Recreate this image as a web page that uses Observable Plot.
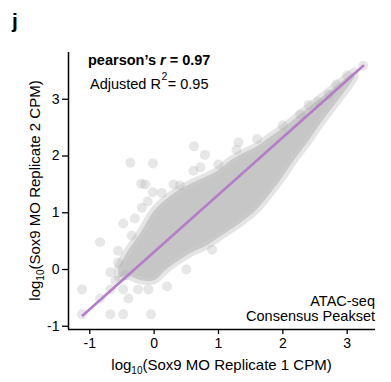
<!DOCTYPE html>
<html><head><meta charset="utf-8">
<script src="https://cdn.jsdelivr.net/npm/d3@7"></script>
<script src="https://cdn.jsdelivr.net/npm/@observablehq/plot@0.6"></script>
<style>body{margin:0;background:#fff;}</style>
</head><body><div id="chart"></div>
<script>
// ---- data ----
const xTicks = [-1, 0, 1, 2, 3];
const yTicks = [-1, 0, 1, 2, 3];
// dense point cloud envelope (log10 CPM)
const cloudX  = [-0.55, -0.4, -0.2, 0.0, 0.2, 0.4, 0.6, 0.8, 1.0, 1.2, 1.4, 1.6, 1.8, 2.0, 2.2, 2.4, 2.6, 2.8, 3.0, 3.12];
const cloudHi = [0.02, 0.32, 0.65, 1.02, 1.24, 1.40, 1.52, 1.62, 1.74, 1.92, 2.05, 2.16, 2.32, 2.48, 2.66, 2.84, 3.02, 3.20, 3.38, 3.48];
const cloudLo = [-0.15, -0.12, -0.20, -0.20, 0.00, 0.16, 0.30, 0.40, 0.55, 0.70, 0.86, 1.05, 1.32, 1.62, 1.95, 2.25, 2.58, 2.88, 3.18, 3.38];
// sparse individual peaks outside the dense cloud
const outX = [-0.37, -0.02, 0.62, 0.79, -0.14, -0.20, -0.02, -0.48, -0.84, -0.19, -0.56, -0.56, -0.68, -1.12, -0.68, -0.84, -0.40, -0.48, -0.25, -0.09, -1.12, -0.68, -0.48, -0.05, 1.31, 1.28, 2.83, 3.25, 2.27, 2.71, 0.61, 0.72, 0.40, 2.00, 0.12, 0.30, 1.00, 1.60, 2.40, 2.55, 3.00, -0.30, -0.35, 0.20, 0.50, 0.90, -0.60, -0.45, -0.10];
const outY = [1.88, 1.87, 2.17, 2.02, 1.50, 1.51, 1.36, 0.81, 0.48, 1.09, 0.33, 0.12, -0.05, -0.35, -0.35, -0.51, -0.51, -0.35, -0.35, -0.35, -0.79, -0.79, -0.79, -0.79, 2.24, 2.11, 3.26, 3.59, 2.73, 3.08, 1.74, 1.80, 1.48, 2.54, 1.35, 1.50, 1.85, 2.30, 2.90, 2.95, 3.42, 0.90, 0.60, -0.30, 0.00, 0.35, -0.20, -0.10, 1.20];
// fitted line end points
const fitX = [-1.11, 3.25];
const fitY = [-0.81, 3.59];
const pearsonR = "0.97";
const adjR2 = "0.95";
const xTitle = ["log", "10", "(Sox9 MO Replicate 1 CPM)"];
const yTitle = ["log", "10", "(Sox9 MO Replicate 2 CPM)"];
const noteLines = ["ATAC-seq", "Consensus Peakset"];
const panelLabel = "j";

// ---- tables ----
const cloud = cloudX.map((x, i) => ({x, lo: cloudLo[i], hi: cloudHi[i]}));
const outliers = outX.map((x, i) => ({x, y: outY[i]}));
const fit = fitX.map((x, i) => ({x, y: fitY[i]}));

const W = 391, H = 382, mL = 68, mR = 16, mT = 52, mB = 53;
const xDomain = [-1.331, 3.44], yDomain = [-1.057, 3.824];
const FONT = "'Liberation Sans', Arial, Helvetica, sans-serif";

const plot = Plot.plot({
  width: W, height: H,
  marginLeft: mL, marginRight: mR, marginTop: mT, marginBottom: mB,
  style: {fontFamily: FONT, fontSize: "14px", color: "#000", background: "#fff"},
  x: {domain: xDomain},
  y: {domain: yDomain},
  marks: [
    Plot.areaY(cloud, {x: "x", y1: "lo", y2: "hi", fill: "#c6c6c6", stroke: "#cccccc", strokeWidth: 8, strokeOpacity: 0.5, strokeLinejoin: "round", curve: "catmull-rom"}),
    Plot.dot(outliers, {x: "x", y: "y", r: 5, fill: "#a8a8a8", fillOpacity: 0.27, stroke: "none"}),
    Plot.line(fit, {x: "x", y: "y", stroke: "#b57cc8", strokeWidth: 2.5}),
    Plot.ruleX([xDomain[0]], {stroke: "#000", strokeWidth: 1.5}),
    Plot.ruleY([yDomain[0]], {stroke: "#000", strokeWidth: 1.5}),
    Plot.axisX({ticks: xTicks, tickSize: 5, tickPadding: 4, tickFormat: d => String(d), label: null, fontSize: 14, strokeWidth: 1.3}),
    Plot.axisY({ticks: yTicks, tickSize: 6, tickPadding: 3, tickFormat: d => String(d), label: null, fontSize: 14, strokeWidth: 1.3})
  ]
});
document.getElementById("chart").appendChild(plot);

const svg = d3.select(plot);
const g = svg.append("g").attr("font-family", FONT).attr("fill", "#000").attr("text-anchor", "start");
const cx = mL + (W - mL - mR) / 2, cy = mT + (H - mT - mB) / 2;

g.append("text").attr("x", 12).attr("y", 28).attr("font-size", 21).attr("font-weight", "bold").attr("text-anchor", "start").text(panelLabel);

const t1 = g.append("text").attr("x", mL + 20).attr("y", mT + 13).attr("font-size", 14.5).attr("font-weight", "bold").attr("text-anchor", "start");
t1.append("tspan").text("pearson\u2019s ");
t1.append("tspan").attr("font-style", "italic").text("r");
t1.append("tspan").text(" = " + pearsonR);

const t2 = g.append("text").attr("x", mL + 22).attr("y", mT + 37).attr("font-size", 14.5).attr("text-anchor", "start");
t2.append("tspan").text("Adjusted R");
t2.append("tspan").attr("font-size", 10.5).attr("dy", -9).attr("dx", 0.5).text("2");
t2.append("tspan").attr("dy", 9).attr("dx", 0.5).text("= " + adjR2);

noteLines.forEach((s, i) => {
  g.append("text").attr("x", W - mR).attr("y", H - mB - 23 + i * 15).attr("text-anchor", "end").attr("font-size", 14.5).text(s);
});

function title(sel, parts) {
  sel.append("tspan").text(parts[0]);
  sel.append("tspan").attr("font-size", 10).attr("dy", 4).text(parts[1]);
  sel.append("tspan").attr("dy", -4).text(parts[2]);
}
title(g.append("text").attr("x", cx).attr("y", H - 12).attr("text-anchor", "middle").attr("font-size", 15), xTitle);
title(g.append("text").attr("transform", `translate(${40},${cy}) rotate(-90)`).attr("text-anchor", "middle").attr("font-size", 15), yTitle);
</script>
</body></html>
